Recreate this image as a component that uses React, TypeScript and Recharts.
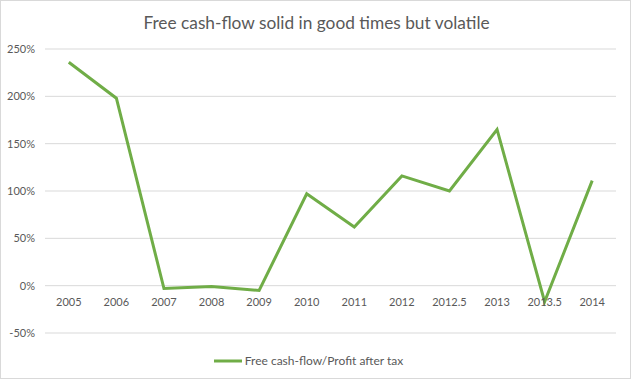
import React from "react";
import { LineChart, Line, XAxis, YAxis, CartesianGrid, Legend } from "recharts";

const categories = ["2005", "2006", "2007", "2008", "2009", "2010", "2011", "2012", "2012.5", "2013", "2013.5", "2014"];
const ratioValues = [236, 198, -3, -1, -5, 97, 62, 116, 100, 165, -17, 111];
const yTicks = [-50, 0, 50, 100, 150, 200, 250];
const seriesName = "Free cash-flow/Profit after tax";
const titleText = "Free cash-flow solid in good times but volatile";

const data = categories.map((c, i) => ({ year: c, ratio: ratioValues[i] }));

const W = 631;
const H = 379;
const PLOT_TOP = 49;
const PLOT_BOTTOM = 333;
const Y_MIN = -50;
const Y_MAX = 250;
const ZERO_Y = PLOT_TOP + ((Y_MAX - 0) / (Y_MAX - Y_MIN)) * (PLOT_BOTTOM - PLOT_TOP);
const FONT = "Lato, 'Open Sans', sans-serif";
const TEXT_COLOR = "#595959";
const LINE_COLOR = "#70ad47";

const XTick = (props: any) => {
  const { x, payload } = props;
  return (
    <text x={x} y={ZERO_Y + 20} textAnchor="middle" fill={TEXT_COLOR} fontSize={11} fontFamily={FONT}>
      {payload.value}
    </text>
  );
};

const LegendContent = () => (
  <div style={{ display: "flex", justifyContent: "center", alignItems: "center", paddingTop: 4 }}>
    <svg width={30} height={10} style={{ marginRight: 2 }}>
      <line x1={1} y1={5} x2={29} y2={5} stroke={LINE_COLOR} strokeWidth={3} />
    </svg>
    <span style={{ fontFamily: FONT, fontSize: 12, color: TEXT_COLOR }}>{seriesName}</span>
  </div>
);

export default function App() {
  return (
    <div
      style={{
        position: "absolute",
        left: 0,
        top: 0,
        width: W,
        height: H,
        boxSizing: "border-box",
        border: "1px solid #d9d9d9",
        background: "#fff",
      }}
    >
      <div
        style={{
          position: "absolute",
          left: 0,
          top: 10,
          width: W,
          textAlign: "center",
          fontFamily: FONT,
          fontSize: 17.3,
          color: TEXT_COLOR,
          lineHeight: "24px",
        }}
      >
        {titleText}
      </div>
      <div style={{ position: "absolute", left: -1, top: -1 }}>
        <LineChart width={W} height={H} data={data} margin={{ top: PLOT_TOP, right: 15, left: 0, bottom: 0 }}>
          <CartesianGrid vertical={false} stroke="#d9d9d9" />
          <XAxis
            dataKey="year"
            scale="band"
            height={16}
            axisLine={false}
            tickLine={false}
            interval={0}
            tick={<XTick />}
          />
          <YAxis
            width={45}
            domain={[Y_MIN, Y_MAX]}
            ticks={yTicks}
            allowDataOverflow
            axisLine={false}
            tickLine={false}
            tickMargin={4}
            tickFormatter={(v: number) => `${v}%`}
            tick={{ fill: TEXT_COLOR, fontSize: 11, fontFamily: FONT }}
          />
          <Legend verticalAlign="bottom" height={30} content={<LegendContent />} />
          <Line
            type="linear"
            dataKey="ratio"
            name={seriesName}
            stroke={LINE_COLOR}
            strokeWidth={3}
            dot={false}
            activeDot={false}
            isAnimationActive={false}
          />
        </LineChart>
      </div>
    </div>
  );
}
